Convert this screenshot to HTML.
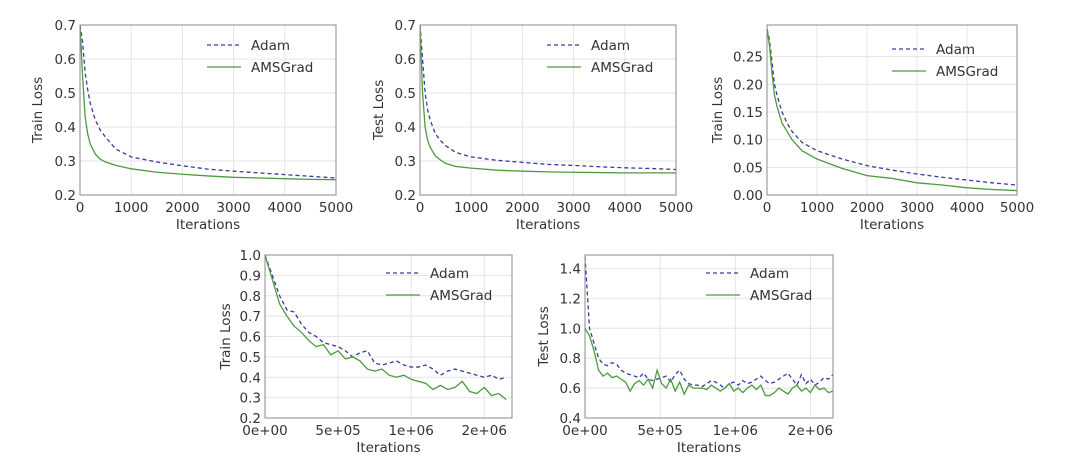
<!DOCTYPE html>
<html><head><meta charset="utf-8"><style>
body{margin:0;background:#fff;}
svg{display:block;font-family:"DejaVu Sans","Liberation Sans",sans-serif;}
</style></head><body>
<svg id="fig" width="1080" height="471" viewBox="0 0 1080 471"></svg>
<script>
const itersA=[0,50,100,150,200,300,400,500,700,1000,1500,2000,2500,3000,3500,4000,4500,5000];
const p1Adam=[0.7,0.65,0.56,0.51,0.47,0.42,0.39,0.37,0.335,0.312,0.297,0.286,0.276,0.27,0.265,0.26,0.255,0.25];
const p1Ams=[0.7,0.55,0.43,0.38,0.35,0.32,0.305,0.297,0.287,0.277,0.267,0.261,0.256,0.252,0.25,0.248,0.246,0.245];
const p2Adam=[0.7,0.6,0.5,0.45,0.42,0.38,0.36,0.345,0.325,0.312,0.302,0.296,0.29,0.287,0.283,0.28,0.278,0.275];
const p2Ams=[0.7,0.5,0.4,0.36,0.34,0.315,0.303,0.293,0.284,0.279,0.273,0.27,0.268,0.267,0.266,0.265,0.265,0.265];
const p3Adam=[0.3,0.28,0.24,0.2,0.18,0.15,0.13,0.115,0.095,0.08,0.065,0.053,0.045,0.038,0.032,0.027,0.022,0.018];
const p3Ams=[0.3,0.27,0.22,0.18,0.16,0.13,0.115,0.1,0.08,0.065,0.048,0.035,0.03,0.022,0.018,0.013,0.01,0.008];
const p4Step=50000;
const p4Adam=[1.0,0.9,0.8,0.73,0.72,0.66,0.62,0.6,0.57,0.56,0.55,0.53,0.5,0.52,0.53,0.47,0.46,0.47,0.48,0.46,0.45,0.45,0.46,0.44,0.41,0.43,0.44,0.43,0.42,0.41,0.4,0.41,0.39,0.4];
const p4Ams=[1.0,0.88,0.76,0.7,0.65,0.62,0.58,0.55,0.56,0.51,0.53,0.49,0.5,0.48,0.44,0.43,0.44,0.41,0.4,0.41,0.39,0.38,0.37,0.34,0.36,0.34,0.35,0.38,0.33,0.32,0.35,0.31,0.32,0.29];
const p5Step=30000;
const p5Adam=[1.48,1.0,0.9,0.8,0.76,0.75,0.77,0.76,0.72,0.7,0.69,0.68,0.67,0.7,0.66,0.65,0.66,0.67,0.68,0.64,0.69,0.72,0.66,0.63,0.62,0.62,0.61,0.63,0.65,0.64,0.62,0.6,0.63,0.64,0.62,0.65,0.63,0.64,0.66,0.68,0.65,0.63,0.64,0.66,0.68,0.7,0.66,0.62,0.69,0.63,0.66,0.62,0.64,0.67,0.66,0.69];
const p5Ams=[1.0,0.95,0.85,0.72,0.68,0.7,0.67,0.68,0.66,0.64,0.58,0.63,0.65,0.62,0.66,0.6,0.72,0.63,0.6,0.66,0.58,0.64,0.56,0.62,0.6,0.6,0.6,0.59,0.62,0.6,0.58,0.6,0.63,0.58,0.6,0.57,0.6,0.62,0.59,0.62,0.55,0.55,0.57,0.6,0.58,0.56,0.6,0.62,0.58,0.6,0.57,0.62,0.59,0.6,0.57,0.58];
const xTicksA=[0,1000,2000,3000,4000,5000];
const xLabelsA=["0","1000","2000","3000","4000","5000"];
const xTicksB=[0,500000,1000000,1500000];
const xLabelsB=["0e+00","5e+05","1e+06","2e+06"];
const yT1=[0.2,0.3,0.4,0.5,0.6,0.7], yL1=["0.2","0.3","0.4","0.5","0.6","0.7"];
const yT3=[0,0.05,0.1,0.15,0.2,0.25], yL3=["0.00","0.05","0.10","0.15","0.20","0.25"];
const yT4=[0.2,0.3,0.4,0.5,0.6,0.7,0.8,0.9,1.0], yL4=["0.2","0.3","0.4","0.5","0.6","0.7","0.8","0.9","1.0"];
const yT5=[0.4,0.6,0.8,1.0,1.2,1.4], yL5=["0.4","0.6","0.8","1.0","1.2","1.4"];

const NS="http://www.w3.org/2000/svg";
const fig=document.getElementById('fig');
function mk(tag,attrs,parent){const e=document.createElementNS(NS,tag);for(const k in attrs)e.setAttribute(k,attrs[k]);(parent||fig).appendChild(e);return e;}
function panel(cfg){
  const g=mk('g',{});
  
  
  const {x0,x1,y0,y1,xmin,xmax,ymin,ymax}=cfg;
  const sx=v=>x0+(v-xmin)/(xmax-xmin)*(x1-x0);
  const sy=v=>y1-(v-ymin)/(ymax-ymin)*(y1-y0);
  cfg.xt.forEach((t,i)=>{
    const X=sx(t);
    const gl=mk('line',{x1:X,x2:X,y1:y0,y2:y1,stroke:'#e4e4e4','stroke-width':1},g);
    
    
    const tx=mk('text',{x:X,y:y1+17,'text-anchor':'middle','font-size':13.5,fill:'#333'},g);
    tx.textContent=cfg.xl[i];
    
    
  });
  cfg.yt.forEach((t,i)=>{
    const Y=sy(t);
    const gl=mk('line',{x1:x0,x2:x1,y1:Y,y2:Y,stroke:'#e4e4e4','stroke-width':1},g);
    
    
    const tx=mk('text',{x:x0-4,y:Y+5,'text-anchor':'end','font-size':13.5,fill:'#333'},g);
    tx.textContent=cfg.yl[i];
    
    
  });
  const clipId='c'+cfg.name;
  const cp=mk('clipPath',{id:clipId},g);mk('rect',{x:x0,y:y0,width:x1-x0,height:y1-y0},cp);
  const series=[[cfg.adam,'#3a3a9a','4,3','adam-line'],[cfg.ams,'#4d9a3f','none','amsgrad-line']];
  series.forEach(s=>{
    const pts=s[0].map((v,i)=>sx(cfg.xs?cfg.xs[i]:i*cfg.step)+','+sy(v)).join(' ');
    const pl=mk('polyline',{points:pts,fill:'none',stroke:s[1],'stroke-width':1.3,'stroke-dasharray':s[2],'clip-path':'url(#'+clipId+')'},g);
    
    
  });
  const fr=mk('rect',{x:x0,y:y0,width:x1-x0,height:y1-y0,fill:'none',stroke:'#888','stroke-width':1},g);
  
  
  const xt=mk('text',{x:(x0+x1)/2,y:y1+34,'text-anchor':'middle','font-size':13.5,fill:'#333'},g);
  xt.textContent='Iterations';
  
  
  const yx=cfg.ylx, yy=(y0+y1)/2;
  const ytt=mk('text',{x:yx,y:yy,'text-anchor':'middle','font-size':13.5,fill:'#333',transform:'rotate(-90 '+yx+' '+yy+')'},g);
  ytt.textContent=cfg.ytitle;
  
  
  const lx=cfg.lx, ly=cfg.ly;
  const l1=mk('line',{x1:lx,x2:lx+34,y1:ly,y2:ly,stroke:'#3a3a9a','stroke-width':1.3,'stroke-dasharray':'4,3'},g);
  
  
  const t1=mk('text',{x:lx+44,y:ly+5,'font-size':13.5,fill:'#333'},g);t1.textContent='Adam';
  
  
  const l2=mk('line',{x1:lx,x2:lx+34,y1:ly+22,y2:ly+22,stroke:'#4d9a3f','stroke-width':1.3},g);
  
  
  const t2=mk('text',{x:lx+44,y:ly+27,'font-size':13.5,fill:'#333'},g);t2.textContent='AMSGrad';
  
  
}
panel({name:'train-loss-panel-1',x0:80,x1:336,y0:25,y1:195,xmin:0,xmax:5000,ymin:0.2,ymax:0.7,xt:xTicksA,xl:xLabelsA,yt:yT1,yl:yL1,xs:itersA,adam:p1Adam,ams:p1Ams,ytitle:'Train Loss',ylx:42,lx:207,ly:45});
panel({name:'test-loss-panel-2',x0:420,x1:676,y0:25,y1:195,xmin:0,xmax:5000,ymin:0.2,ymax:0.7,xt:xTicksA,xl:xLabelsA,yt:yT1,yl:yL1,xs:itersA,adam:p2Adam,ams:p2Ams,ytitle:'Test Loss',ylx:383,lx:547,ly:45});
panel({name:'train-loss-panel-3',x0:767,x1:1017,y0:25,y1:195,xmin:0,xmax:5000,ymin:0,ymax:0.307,xt:xTicksA,xl:xLabelsA,yt:yT3,yl:yL3,xs:itersA,adam:p3Adam,ams:p3Ams,ytitle:'Train Loss',ylx:722,lx:892,ly:49});
panel({name:'train-loss-panel-4',x0:265,x1:512,y0:255,y1:418,xmin:0,xmax:1690000,ymin:0.2,ymax:1.0,xt:xTicksB,xl:xLabelsB,yt:yT4,yl:yL4,step:p4Step,adam:p4Adam,ams:p4Ams,ytitle:'Train Loss',ylx:230,lx:386,ly:273});
panel({name:'test-loss-panel-5',x0:585,x1:833,y0:255,y1:418,xmin:0,xmax:1650000,ymin:0.4,ymax:1.49,xt:xTicksB,xl:xLabelsB,yt:yT5,yl:yL5,step:p5Step,adam:p5Adam,ams:p5Ams,ytitle:'Test Loss',ylx:548,lx:706,ly:273});
</script>
</body></html>
